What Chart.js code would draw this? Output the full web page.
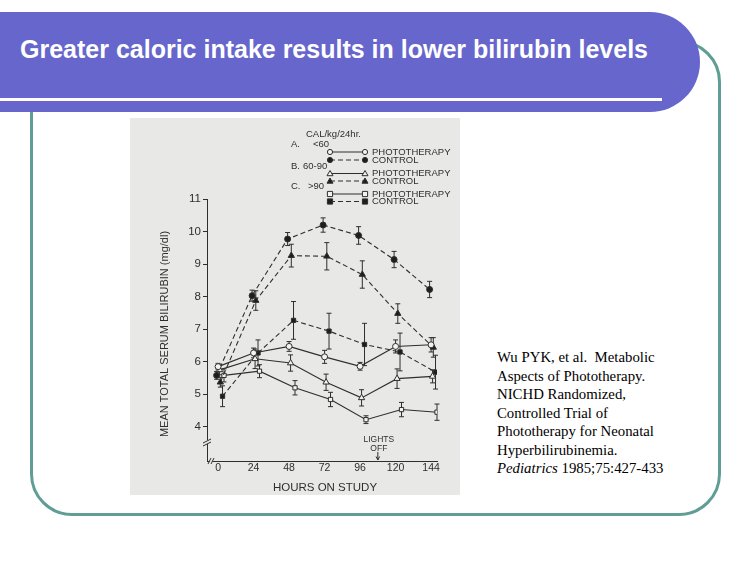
<!DOCTYPE html>
<html>
<head>
<meta charset="utf-8">
<script src="https://cdn.jsdelivr.net/npm/chart.js@4"></script>
<style>
  html, body { margin:0; padding:0; width:750px; height:563px; background:#ffffff; overflow:hidden; }
  #frame { position:absolute; left:30px; top:40px; width:685px; height:470px; border:3px solid #5f9d95; border-radius:42px; }
  #titlebar { position:absolute; left:0; top:12px; width:700px; height:100px; background:#6666cc; border-radius:0 52px 52px 0; }
  #rule { position:absolute; left:0; top:98px; width:662px; height:3px; background:#ffffff; }
  #title { position:absolute; left:20px; top:35px; font-family:"Liberation Sans", Arial, sans-serif; font-weight:bold; font-size:25px; color:#ffffff; white-space:nowrap; }
  #chartbox { position:absolute; left:130px; top:118px; width:330px; height:377px; background:#e8e8e6; }
  #cite { position:absolute; left:497px; top:348px; font-family:"Liberation Serif", "Times New Roman", serif; font-size:14.8px; line-height:18.5px; color:#000; white-space:nowrap; }
</style>
</head>
<body>
<div id="frame"></div>
<div id="titlebar"></div>
<div id="rule"></div>
<div id="title">Greater caloric intake results in lower bilirubin levels</div>
<div id="chartbox"><canvas id="c" width="330" height="377"></canvas></div>
<div id="cite">Wu PYK, et al.&nbsp; Metabolic<br>Aspects of Phototherapy.<br>NICHD Randomized,<br>Controlled Trial of<br>Phototherapy for Neonatal<br>Hyperbilirubinemia.<br><i>Pediatrics</i> 1985;75:427-433</div>
<script>
// ---------------- data ----------------
const HOURS = [0, 24, 48, 72, 96, 120, 144];
const Y_TICKS = [4, 5, 6, 7, 8, 9, 10, 11];

const PHOTO_A = [5.85, 6.27, 6.47, 6.15, 5.86, 6.47, 6.52];
const PHOTO_A_ERR = [0.10, 0.15, 0.15, 0.20, 0.12, 0.20, 0.22];
const CONTROL_A = [5.58, 8.03, 9.77, 10.20, 9.88, 9.14, 8.22];
const CONTROL_A_ERR = [0.12, 0.17, 0.20, 0.22, 0.27, 0.25, 0.25];

const PHOTO_B = [5.75, 6.09, 5.96, 5.37, 4.89, 5.48, 5.55];
const PHOTO_B_ERR = [0.15, 0.30, 0.25, 0.25, 0.25, 0.30, 0.20];
const CONTROL_B = [5.37, 7.88, 9.26, 9.24, 8.68, 7.48, 6.44];
const CONTROL_B_ERR = [0.15, 0.30, 0.35, 0.42, 0.42, 0.30, 0.30];

const PHOTO_C = [5.58, 5.71, 5.20, 4.84, 4.22, 4.53, 4.45];
const PHOTO_C_ERR = [0.20, 0.20, 0.22, 0.22, 0.12, 0.22, 0.25];
const CONTROL_C = [4.94, 6.27, 7.27, 6.94, 6.53, 6.30, 5.68];
const CONTROL_C_ERR = [0.32, 0.40, 0.58, 0.55, 0.65, 0.58, 0.52];

const GROUP_LABELS = ['A.', 'B.', 'C.'];
const GROUP_RANGES = ['<60', '60-90', '>90'];
const UNIT_LABEL = 'CAL/kg/24hr.';
const PHOTO_LABEL = 'PHOTOTHERAPY';
const CONTROL_LABEL = 'CONTROL';
const Y_TITLE = 'MEAN TOTAL SERUM BILIRUBIN (mg/dl)';
const X_TITLE = 'HOURS ON STUDY';
const LIGHTS_OFF_HOUR = 108;

// ---------------- styles ----------------
const INK = '#2e2e2e';
const BG = '#e8e8e6';
const FONT = '"Liberation Sans", Arial, Helvetica, sans-serif';

const SERIES = [
  { values: PHOTO_A,   errors: PHOTO_A_ERR,   marker: 'circle',   filled: false, dashed: false, dodge: 0 },
  { values: CONTROL_A, errors: CONTROL_A_ERR, marker: 'circle',   filled: true,  dashed: true,  dodge: -1 },
  { values: PHOTO_B,   errors: PHOTO_B_ERR,   marker: 'triangle', filled: false, dashed: false, dodge: 1 },
  { values: CONTROL_B, errors: CONTROL_B_ERR, marker: 'triangle', filled: true,  dashed: true,  dodge: 1.5 },
  { values: PHOTO_C,   errors: PHOTO_C_ERR,   marker: 'rect',     filled: false, dashed: false, dodge: 4 },
  { values: CONTROL_C, errors: CONTROL_C_ERR, marker: 'rect',     filled: true,  dashed: true,  dodge: 3 }
];

const datasets = SERIES.map(s => ({
  data: HOURS.map((h, i) => ({ x: h + s.dodge, y: s.values[i] })),
  errors: s.errors,
  borderColor: INK,
  borderWidth: 1.1,
  borderDash: s.dashed ? [5, 3] : [],
  pointStyle: s.marker,
  pointRadius: s.marker === 'triangle' ? 3.6 : 3,
  pointBorderWidth: 1,
  pointBorderColor: INK,
  pointBackgroundColor: s.filled ? '#1e1e1e' : '#f2f2f0',
  tension: 0,
  fill: false
}));

function drawMarker(ctx, style, filled, x, y) {
  ctx.save();
  ctx.setLineDash([]);
  ctx.lineWidth = 1;
  ctx.strokeStyle = INK;
  ctx.fillStyle = filled ? '#1e1e1e' : '#f2f2f0';
  ctx.beginPath();
  if (style === 'circle') {
    ctx.arc(x, y, 2.6, 0, Math.PI * 2);
  } else if (style === 'triangle') {
    ctx.moveTo(x, y - 3); ctx.lineTo(x + 3, y + 2.2); ctx.lineTo(x - 3, y + 2.2); ctx.closePath();
  } else {
    ctx.rect(x - 2.6, y - 2.6, 5.2, 5.2);
  }
  ctx.fill(); ctx.stroke();
  ctx.restore();
}

const decorPlugin = {
  id: 'decor',
  beforeDatasetsDraw(chart) {
    const ctx = chart.ctx;
    const ys = chart.scales.y;
    ctx.save();
    ctx.strokeStyle = INK;
    ctx.lineWidth = 1;
    chart.data.datasets.forEach((ds, di) => {
      const meta = chart.getDatasetMeta(di);
      ds.errors.forEach((e, i) => {
        const pt = meta.data[i];
        const v = ds.data[i].y;
        const y1 = ys.getPixelForValue(v + e);
        const y2 = ys.getPixelForValue(v - e);
        ctx.beginPath();
        ctx.moveTo(pt.x, y1); ctx.lineTo(pt.x, y2);
        ctx.moveTo(pt.x - 2.5, y1); ctx.lineTo(pt.x + 2.5, y1);
        ctx.moveTo(pt.x - 2.5, y2); ctx.lineTo(pt.x + 2.5, y2);
        ctx.stroke();
      });
    });
    ctx.restore();
  },
  afterDraw(chart) {
    const ctx = chart.ctx;
    const xs = chart.scales.x;
    const area = chart.chartArea;
    ctx.save();
    ctx.fillStyle = INK;
    ctx.strokeStyle = INK;
    ctx.lineWidth = 1;

    // legend
    ctx.font = '9.5px ' + FONT;
    ctx.textBaseline = 'middle';
    ctx.textAlign = 'left';
    ctx.fillText(UNIT_LABEL, 176, 16);
    const groupY = [26, 48, 68];
    const rangeX = [183, 173, 178];
    const rowY = [[34, 42], [55.5, 63], [76, 83.5]];
    const markers = ['circle', 'triangle', 'rect'];
    for (let g = 0; g < 3; g++) {
      ctx.fillText(GROUP_LABELS[g], 161, groupY[g]);
      ctx.fillText(GROUP_RANGES[g], rangeX[g], groupY[g]);
      for (let r = 0; r < 2; r++) {
        const y = rowY[g][r];
        ctx.save();
        ctx.setLineDash(r === 1 ? [5, 3] : []);
        ctx.beginPath(); ctx.moveTo(200, y); ctx.lineTo(235, y); ctx.stroke();
        ctx.restore();
        drawMarker(ctx, markers[g], r === 1, 200, y);
        drawMarker(ctx, markers[g], r === 1, 235, y);
        ctx.fillStyle = INK;
        ctx.fillText(r === 0 ? PHOTO_LABEL : CONTROL_LABEL, 242, y);
      }
    }

    // axis titles
    ctx.font = '11px ' + FONT;
    ctx.textAlign = 'center';
    ctx.save();
    ctx.translate(35, 216);
    ctx.rotate(-Math.PI / 2);
    ctx.fillText(Y_TITLE, 0, 0);
    ctx.restore();
    ctx.font = '11.5px ' + FONT;
    ctx.fillText(X_TITLE, 195, 370);

    // lights off annotation
    const lx = xs.getPixelForValue(LIGHTS_OFF_HOUR);
    ctx.font = '8.5px ' + FONT;
    ctx.fillText('LIGHTS', lx + 1, 322);
    ctx.fillText('OFF', lx + 1, 330.5);
    ctx.beginPath(); ctx.moveTo(lx, 334); ctx.lineTo(lx, 342); ctx.stroke();
    ctx.beginPath(); ctx.moveTo(lx - 1.8, 338.5); ctx.lineTo(lx, 342); ctx.lineTo(lx + 1.8, 338.5); ctx.stroke();

    // axis breaks
    const bx = area.left, by = 324;
    ctx.fillStyle = BG;
    ctx.fillRect(bx - 2, by - 2, 4, 4);
    ctx.beginPath();
    ctx.moveTo(bx - 4, by + 1); ctx.lineTo(bx + 4, by - 3);
    ctx.moveTo(bx - 4, by + 4); ctx.lineTo(bx + 4, by);
    ctx.stroke();
    const cx = area.left + 4, cy = area.bottom;
    ctx.fillRect(cx - 1.5, cy - 1, 3, 2);
    ctx.beginPath();
    ctx.moveTo(cx - 3, cy + 3); ctx.lineTo(cx + 0, cy - 3);
    ctx.moveTo(cx + 0, cy + 3); ctx.lineTo(cx + 3, cy - 3);
    ctx.stroke();
    ctx.restore();
  }
};

new Chart(document.getElementById('c'), {
  type: 'line',
  data: { datasets },
  plugins: [decorPlugin],
  options: {
    responsive: false,
    animation: false,
    devicePixelRatio: 1,
    layout: { padding: { top: 81, right: 23, left: 0, bottom: 0 } },
    plugins: { legend: { display: false }, tooltip: { enabled: false } },
    scales: {
      x: {
        type: 'linear',
        min: -7.5, max: 148,
        afterBuildTicks: s => { s.ticks = HOURS.map(v => ({ value: v })); },
        afterFit: s => { s.height = 34; },
        grid: { display: true, drawOnChartArea: false, drawTicks: false, color: INK },
        border: { display: true, color: INK, width: 1 },
        ticks: { color: INK, font: { family: FONT, size: 10.5 }, padding: 1, maxRotation: 0 }
      },
      y: {
        type: 'linear',
        min: 2.95, max: 11,
        afterBuildTicks: s => { s.ticks = Y_TICKS.map(v => ({ value: v })); },
        afterFit: s => { s.width = 77; },
        grid: { display: true, drawOnChartArea: false, drawTicks: true, tickLength: 4, color: INK },
        border: { display: true, color: INK, width: 1 },
        ticks: { color: INK, font: { family: FONT, size: 11.5 }, padding: 2 }
      }
    }
  }
});
</script>
</body>
</html>
